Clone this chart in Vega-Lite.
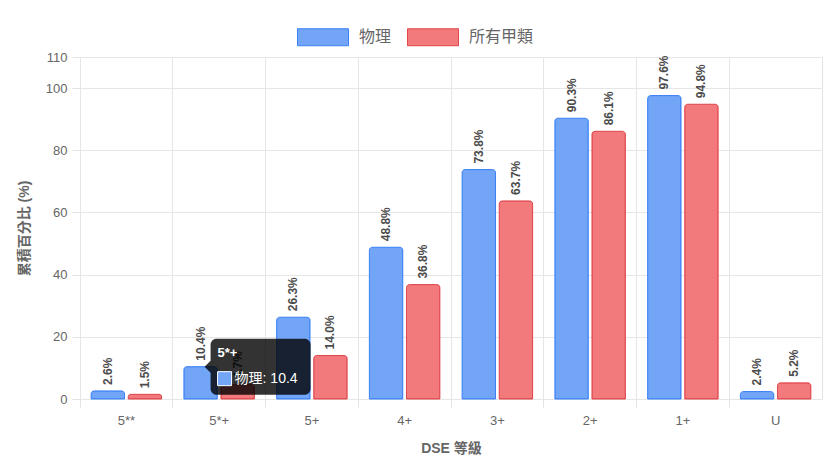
{
  "$schema": "https://vega.github.io/schema/vega-lite/v6.json",
  "width": 742,
  "height": 342,
  "autosize": {"type": "none"},
  "padding": {"left": 80, "top": 57, "right": 12, "bottom": 68},
  "background": "white",
  "config": {
    "font": "Liberation Sans, Noto Sans CJK TC, sans-serif",
    "view": {"stroke": "#e2e2e2", "strokeWidth": 1},
    "axis": {
      "gridColor": "#e6e6e6",
      "tickColor": "#e2e2e2",
      "domain": false,
      "tickSize": 8,
      "labelColor": "#666666",
      "labelFontSize": 13,
      "titleColor": "#666666",
      "titleFontSize": 14,
      "titleFontWeight": "bold"
    }
  },
  "data": {
    "values": [
      {"grade": "5**", "series": "物理", "value": 2.6},
      {"grade": "5**", "series": "所有甲類", "value": 1.5},
      {"grade": "5*+", "series": "物理", "value": 10.4},
      {"grade": "5*+", "series": "所有甲類", "value": 4.7},
      {"grade": "5+", "series": "物理", "value": 26.3},
      {"grade": "5+", "series": "所有甲類", "value": 14.0},
      {"grade": "4+", "series": "物理", "value": 48.8},
      {"grade": "4+", "series": "所有甲類", "value": 36.8},
      {"grade": "3+", "series": "物理", "value": 73.8},
      {"grade": "3+", "series": "所有甲類", "value": 63.7},
      {"grade": "2+", "series": "物理", "value": 90.3},
      {"grade": "2+", "series": "所有甲類", "value": 86.1},
      {"grade": "1+", "series": "物理", "value": 97.6},
      {"grade": "1+", "series": "所有甲類", "value": 94.8},
      {"grade": "U", "series": "物理", "value": 2.4},
      {"grade": "U", "series": "所有甲類", "value": 5.2}
    ]
  },
  "transform": [
    {"calculate": "format(datum.value, '.1f') + '%'", "as": "label"},
    {"calculate": "datum.series + ': ' + datum.value", "as": "tip"}
  ],
  "encoding": {
    "x": {
      "field": "grade",
      "type": "nominal",
      "sort": null,
      "title": "DSE 等級",
      "scale": {
        "domain": ["5**", "5*+", "5+", "4+", "3+", "2+", "1+", "U"],
        "paddingInner": 0,
        "paddingOuter": 0
      },
      "axis": {
        "bandPosition": 0,
        "labelAngle": 0,
        "grid": true,
        "labelPadding": 7,
        "titlePadding": 14
      }
    },
    "xOffset": {
      "field": "series",
      "type": "nominal",
      "scale": {"domain": ["物理", "所有甲類"], "paddingInner": 0.1, "paddingOuter": 0.3}
    },
    "y": {
      "field": "value",
      "type": "quantitative",
      "title": "累積百分比 (%)",
      "scale": {"domain": [0, 110], "nice": false},
      "axis": {
        "values": [0, 20, 40, 60, 80, 100, 110],
        "grid": true,
        "labelPadding": 5,
        "titlePadding": 14
      }
    }
  },
  "layer": [
    {
      "mark": {"type": "bar", "cornerRadiusTopLeft": 3, "cornerRadiusTopRight": 3, "strokeWidth": 1},
      "encoding": {
        "fill": {
          "field": "series",
          "type": "nominal",
          "scale": {"domain": ["物理", "所有甲類"], "range": ["#72a5f6", "#f2797c"]},
          "legend": {
            "title": null,
            "orient": "none",
            "legendX": 217,
            "legendY": -46,
            "direction": "horizontal",
            "symbolType": "M-1,-0.333H1V0.333H-1Z",
            "symbolSize": 2601,
            "symbolStrokeWidth": 1,
            "labelFontSize": 16,
            "labelColor": "#666666",
            "labelOffset": 10,
            "columnPadding": 13,
            "padding": 0
          }
        },
        "stroke": {
          "field": "series",
          "type": "nominal",
          "scale": {"domain": ["物理", "所有甲類"], "range": ["#3b82f6", "#e0474b"]},
          "legend": {
            "title": null,
            "orient": "none",
            "legendX": 217,
            "legendY": -46,
            "direction": "horizontal",
            "symbolType": "M-1,-0.333H1V0.333H-1Z",
            "symbolSize": 2601,
            "symbolStrokeWidth": 1,
            "labelFontSize": 16,
            "labelColor": "#666666",
            "labelOffset": 10,
            "columnPadding": 13,
            "padding": 0
          }
        }
      }
    },
    {
      "mark": {
        "type": "text",
        "angle": 270,
        "align": "left",
        "baseline": "middle",
        "dx": 6,
        "fontSize": 12,
        "fontWeight": "bold",
        "color": "#4b4b4b"
      },
      "encoding": {"text": {"field": "label"}}
    },
    {
      "transform": [{"filter": "datum.grade === '5*+' && datum.series === '物理'"}],
      "layer": [
        {
          "mark": {
            "type": "point",
            "shape": "M16,-28H104A6,6,0,0,1,110,-22V22A6,6,0,0,1,104,28H16A6,6,0,0,1,10,22V6L4,0L10,-6V-22A6,6,0,0,1,16,-28Z",
            "size": 4,
            "filled": true,
            "fill": "#000000",
            "fillOpacity": 0.8,
            "opacity": 1,
            "strokeWidth": 0
          }
        },
        {
          "mark": {
            "type": "point",
            "shape": "M17,5H31V19H17Z",
            "size": 4,
            "filled": true,
            "fill": "#72a5f6",
            "opacity": 1,
            "stroke": "#ffffff",
            "strokeWidth": 1
          }
        },
        {
          "mark": {
            "type": "text",
            "align": "left",
            "baseline": "middle",
            "dx": 17,
            "dy": -14,
            "fontSize": 13,
            "fontWeight": "bold",
            "color": "#ffffff"
          },
          "encoding": {"text": {"field": "grade"}}
        },
        {
          "mark": {
            "type": "text",
            "align": "left",
            "baseline": "middle",
            "dx": 34,
            "dy": 12,
            "fontSize": 14,
            "color": "#ffffff"
          },
          "encoding": {"text": {"field": "tip"}}
        }
      ]
    }
  ]
}
